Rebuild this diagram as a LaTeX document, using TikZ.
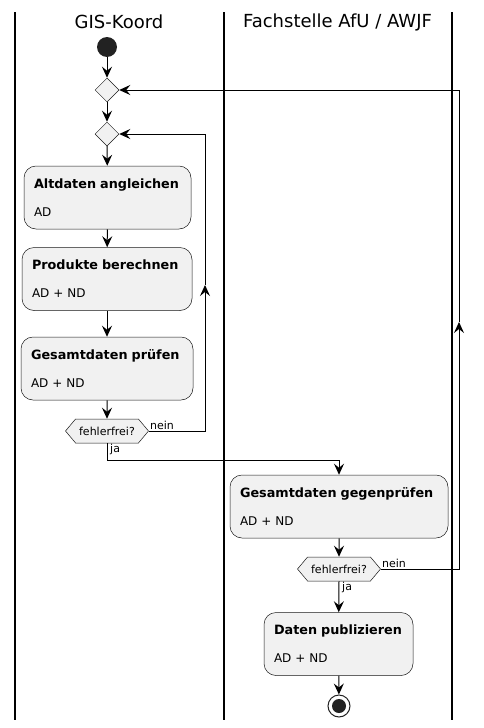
\documentclass[tikz,border=0pt]{standalone}
\usepackage{fontspec}
\setmainfont{DejaVu Sans}
\usetikzlibrary{arrows.meta,shapes.geometric,shapes.symbols}

\definecolor{actfill}{HTML}{F1F1F1}
\definecolor{actline}{HTML}{181818}
\definecolor{dotfill}{HTML}{222222}

\newcommand{\acttitle}[1]{\mbox{\fontsize{12.8}{15}\selectfont\bfseries #1}}

\begin{document}
\begin{tikzpicture}[x=1pt,y=-1pt,
    act/.style={draw=actline,line width=0.5pt,fill=actfill,rounded corners=12pt,
      align=left,inner xsep=10pt,inner ysep=0pt,minimum height=63pt,
      font=\fontsize{12}{14}\selectfont},
    dia/.style={diamond,draw=actline,line width=0.5pt,fill=actfill,inner sep=0pt,
      minimum width=24pt,minimum height=24pt},
    hexa/.style={signal,signal to=west and east,signal pointer angle=100,
      draw=actline,line width=0.5pt,fill=actfill,inner sep=2pt,
      minimum width=83pt,minimum height=24pt,font=\fontsize{11}{13}\selectfont},
    flow/.style={line width=1pt,-{Stealth[length=11pt,width=10pt,inset=4pt]}},
    lbl/.style={inner sep=1pt,font=\fontsize{11}{13}\selectfont}]

  \useasboundingbox (0,0) rectangle (484,728);

  % draw swimlanes
  \foreach \x in {15,224,452}
    \draw [line width=1.4pt] (\x,12) -- (\x,720);
  \node [font=\fontsize{18}{20}\selectfont] (laneA) at (119,22) {GIS-Koord};
  \node [font=\fontsize{18}{20}\selectfont] (laneB) at (337.5,22) {Fachstelle AfU / AWJF};

  % start and merge points
  \node [circle,fill=dotfill,minimum size=20pt,inner sep=0pt] (start) at (107,47) {};
  \node [dia] (merge1) at (107,90) {};
  \node [dia] (merge2) at (107,134) {};

  % activities in lane A
  \node [act,text width=147pt] (align) at (107.5,197.5)
    {\acttitle{Altdaten angleichen}\\[14pt]AD};
  \node [act,text width=150pt] (calc) at (107,279)
    {\acttitle{Produkte berechnen}\\[14pt]AD + ND};
  \node [act,text width=152pt] (check) at (107,368.5)
    {\acttitle{Gesamtdaten prüfen}\\[14pt]AD + ND};
  \node [hexa] (ok1) at (107,431) {fehlerfrei?};

  % activities in lane B
  \node [act,text width=198pt] (recheck) at (339,506.5)
    {\acttitle{Gesamtdaten gegenprüfen}\\[14pt]AD + ND};
  \node [hexa] (ok2) at (339,569) {fehlerfrei?};
  \node [act,text width=129pt] (publish) at (338.5,644)
    {\acttitle{Daten publizieren}\\[14pt]AD + ND};

  % end point
  \node [circle,draw=dotfill,line width=1pt,fill=white,minimum size=22pt,inner sep=0pt] (stop) at (339,706) {};
  \fill [dotfill] (stop.center) circle (7pt);

  % loop points and bends
  \coordinate (loopA) at (205,285);
  \coordinate (loopB) at (459,322);
  \coordinate (bend) at (107,460);

  % draw flow
  \draw [flow] (start) -- (merge1);
  \draw [flow] (merge1) -- (merge2);
  \draw [flow] (merge2) -- (align);
  \draw [flow] (align) -- (calc);
  \draw [flow] (calc) -- (check);
  \draw [flow] (check) -- (ok1);
  \draw [flow] (ok1.east) -| (loopA);
  \draw [flow] (loopA) |- (merge2.east);
  \node [lbl,anchor=south west] at (ok1.east) {nein};
  \draw [flow] (ok1.south) -- (bend) -| (recheck.north);
  \node [lbl,anchor=north west,xshift=2pt] at (ok1.south) {ja};
  \draw [flow] (recheck) -- (ok2);
  \draw [flow] (ok2.east) -| (loopB);
  \draw [flow] (loopB) |- (merge1.east);
  \node [lbl,anchor=south west] at (ok2.east) {nein};
  \draw [flow] (ok2.south) -- (publish);
  \node [lbl,anchor=north west,xshift=2pt] at (ok2.south) {ja};
  \draw [flow] (publish) -- (stop);

\end{tikzpicture}
\end{document}
